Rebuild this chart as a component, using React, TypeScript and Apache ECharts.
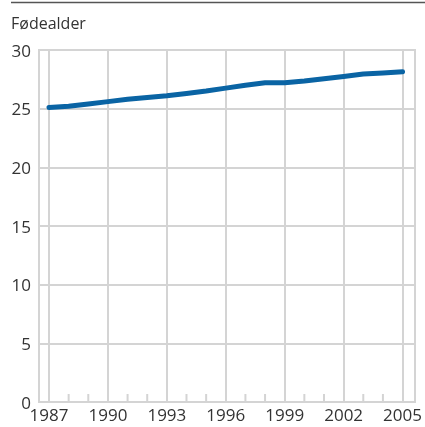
import React, { useEffect, useRef } from "react";
import * as echarts from "echarts";

const years = [1987, 1988, 1989, 1990, 1991, 1992, 1993, 1994, 1995, 1996, 1997, 1998, 1999, 2000, 2001, 2002, 2003, 2004, 2005];
const values = [25.1, 25.2, 25.4, 25.6, 25.8, 25.95, 26.1, 26.3, 26.5, 26.75, 27.0, 27.2, 27.2, 27.35, 27.55, 27.75, 27.95, 28.05, 28.15];
const titleText = "Fødealder";
const yMin = 0;
const yMax = 30;
const yStep = 5;
const xStep = 3;

export default function App() {
  const ref = useRef<HTMLDivElement>(null);
  useEffect(() => {
    if (!ref.current) return;
    const chart = echarts.init(ref.current, undefined, { renderer: "svg" });
    const font = "Open Sans";
    const gray = "#d4d4d4";
    const txt = "#333333";
    const minorYears = years.filter((y) => (y - years[0]) % xStep !== 0);
    chart.setOption({
      animation: false,
      textStyle: { fontFamily: font },
      title: {
        text: titleText,
        left: 11,
        top: 15,
        padding: 0,
        textStyle: { fontFamily: font, fontSize: 16, fontWeight: "normal", color: txt },
      },
      graphic: [
        {
          type: "line",
          shape: { x1: 11, y1: 2.5, x2: 425, y2: 2.5 },
          style: { stroke: "#555555", lineWidth: 1.5 },
        },
      ],
      grid: [
        { left: 39, right: 10, top: 50, bottom: 25, show: true, borderColor: gray, borderWidth: 2, containLabel: false },
        { left: 49, right: 20, top: 50, bottom: 25, containLabel: false },
      ],
      xAxis: [
        {
          gridIndex: 0,
          type: "value",
          min: 0,
          max: 1,
          show: false,
        },
        {
          gridIndex: 1,
          type: "value",
          min: years[0],
          max: years[years.length - 1],
          interval: xStep,
          axisLine: { show: false },
          axisTick: { show: false },
          splitLine: { show: true, lineStyle: { color: gray, width: 2 } },
          axisLabel: {
            formatter: (v: number) => String(v),
            fontSize: 17,
            color: txt,
            margin: 4,
            fontFamily: font,
          },
        },
      ],
      yAxis: [
        {
          gridIndex: 0,
          type: "value",
          min: yMin,
          max: yMax,
          interval: yStep,
          axisLine: { show: false },
          axisTick: { show: false },
          splitLine: { show: true, lineStyle: { color: gray, width: 2 } },
          axisLabel: { fontSize: 17, color: txt, margin: 8, fontFamily: font },
        },
        {
          gridIndex: 1,
          type: "value",
          min: yMin,
          max: yMax,
          interval: yStep,
          show: false,
        },
      ],
      series: [
        {
          type: "custom",
          xAxisIndex: 1,
          yAxisIndex: 1,
          clip: false,
          silent: true,
          z: 5,
          data: minorYears.map((y) => [y, yMin]),
          renderItem: (params: any, api: any) => {
            const p = api.coord([api.value(0), api.value(1)]);
            return {
              type: "line",
              shape: { x1: p[0], y1: p[1], x2: p[0], y2: p[1] - 8 },
              style: { stroke: gray, lineWidth: 2 },
            };
          },
        },
        {
          type: "line",
          xAxisIndex: 1,
          yAxisIndex: 1,
          data: years.map((y, i) => [y, values[i]]),
          showSymbol: false,
          lineStyle: { color: "#0a64a4", width: 5, cap: "round", join: "round" },
          z: 3,
        },
      ],
    });
    return () => chart.dispose();
  }, []);
  return <div ref={ref} style={{ position: "fixed", left: 0, top: 0, width: 425, height: 427 }} />;
}
